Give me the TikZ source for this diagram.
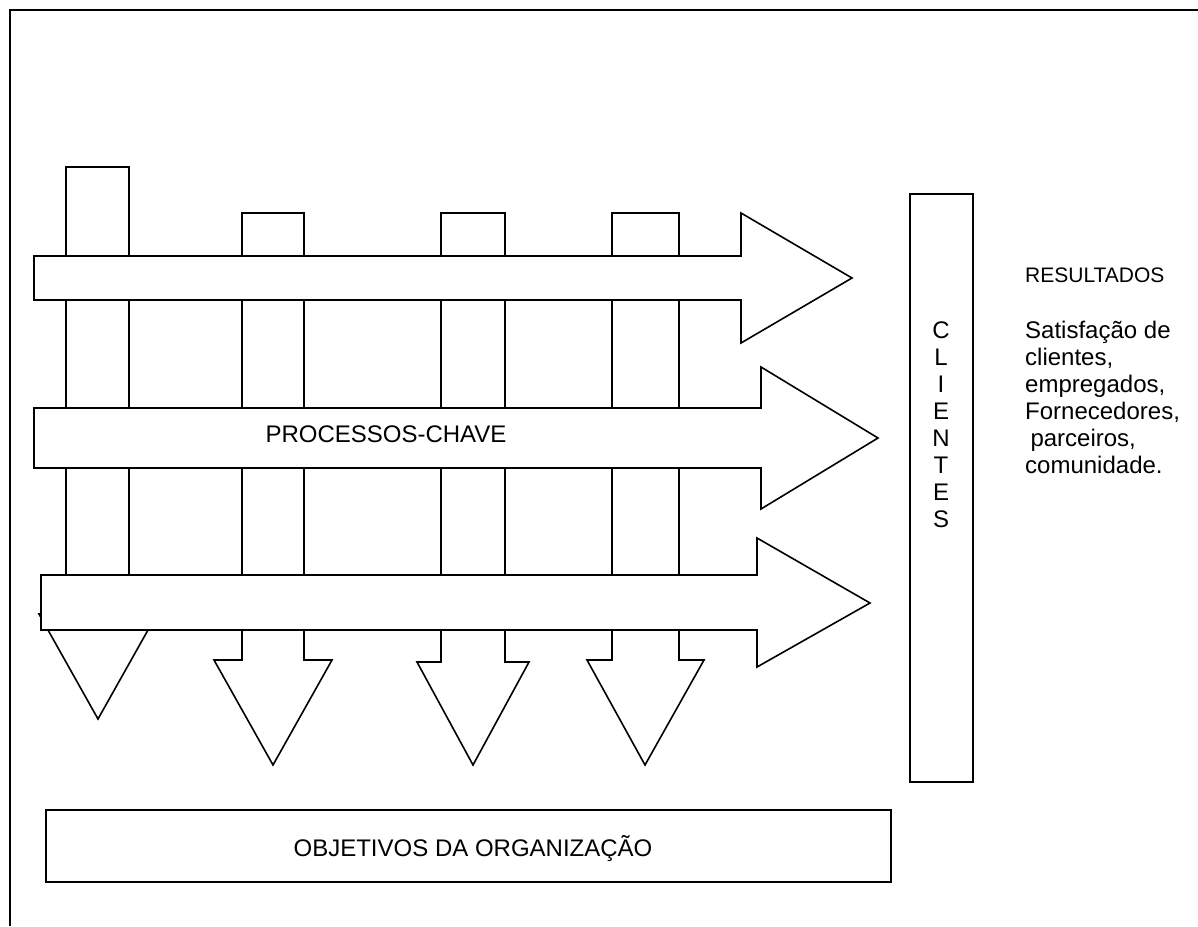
\documentclass[tikz,border=0pt]{standalone}
\usepackage{fontspec}
\setmainfont{Liberation Sans}
\begin{document}
\begin{tikzpicture}[x=1pt,y=-1pt,
  fig/.style={draw=black, fill=white, line width=1.6pt, line join=miter},
  boxfig/.style={draw=black, fill=white, line width=1.7pt, inner sep=0pt},
  lbl/.style={font=\fontsize{24}{27}\selectfont, inner sep=0pt},
  lblsmall/.style={font=\fontsize{21}{25}\selectfont, inner sep=0pt}]
\useasboundingbox (0,0) rectangle (1198,926);
% outer frame
\draw[line width=2.6pt] (10,926) -- (10,10) -- (1198,10);

% vertical (downward) arrows
\draw[fig] (66,167) -- (129,167) -- (129,614) -- (157,614) -- (98,719) -- (39,614) -- (66,614) -- cycle;
\draw[fig] (242,213) -- (304,213) -- (304,660) -- (332,660) -- (273,765) -- (214,660) -- (242,660) -- cycle;
\draw[fig] (441,213) -- (505,213) -- (505,662) -- (529,662) -- (473,765) -- (417,662) -- (441,662) -- cycle;
\draw[fig] (612,213) -- (679,213) -- (679,660) -- (704,660) -- (645,765) -- (587,660) -- (612,660) -- cycle;

% horizontal arrows
\draw[fig] (34,256) -- (741,256) -- (741,213) -- (852,278) -- (741,343) -- (741,300) -- (34,300) -- cycle;
\draw[fig] (34,408) -- (761,408) -- (761,367) -- (878,438) -- (761,509) -- (761,468) -- (34,468) -- cycle;
\draw[fig] (41,575) -- (757,575) -- (757,538) -- (870,603) -- (757,667) -- (757,630) -- (41,630) -- cycle;

\node[lbl, anchor=base] (proc) at (386,442) {PROCESSOS-CHAVE};

% clientes box
\node[boxfig, minimum width=63pt, minimum height=588pt] (clibox) at (941.5,488) {};
\node[lbl, align=center, anchor=north] (cli) at (941,321.5) {C\\L\\I\\E\\N\\T\\E\\S};

% objetivos box
\node[boxfig, minimum width=845pt, minimum height=72pt] (objbox) at (468.5,846) {};
\node[lbl, anchor=base] (obj) at (473,856) {OBJETIVOS DA ORGANIZAÇÃO};

% resultados
\node[lblsmall, anchor=base west] (res) at (1025,282) {RESULTADOS};
\foreach \t [count=\i] in {Satisfação de, {clientes,}, {empregados,}, {Fornecedores,}, {\hphantom{i}parceiros,}, {comunidade.}}
  \node[lbl, anchor=base west] (r\i) at (1025,{338+27*(\i-1)}) {\t};
\end{tikzpicture}
\end{document}
